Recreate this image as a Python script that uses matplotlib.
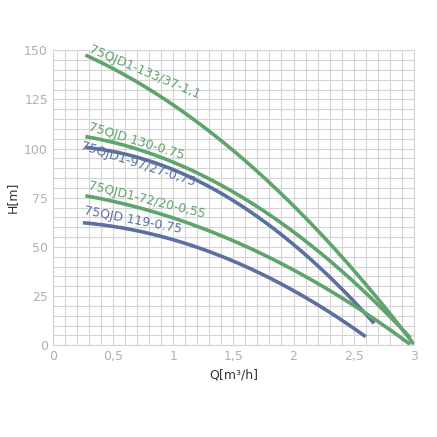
import numpy as np
import matplotlib.pyplot as plt

GREEN = "#5ea46c"
BLUE = "#5b6fa0"

q_133 = [0.27, 0.5, 1.0, 1.5, 2.0, 2.5, 3.0]
h_133 = [145, 140, 127, 103, 68, 30, 6]
q_130 = [0.27, 0.5, 1.0, 1.5, 2.0, 2.5, 2.97]
h_130 = [106, 103, 93, 79, 58, 30, 5]
q_97 = [0.27, 0.5, 1.0, 1.5, 2.0, 2.4, 2.67]
h_97 = [101, 98, 89, 74, 52, 27, 12]
q_72 = [0.27, 0.5, 1.0, 1.5, 2.0, 2.5, 2.97]
h_72 = [76, 73, 65, 53, 39, 19, 1]
q_119 = [0.25, 0.5, 1.0, 1.5, 2.0, 2.3, 2.6]
h_119 = [63, 60, 53, 42, 29, 18, 3]

curves = [
    (q_133, h_133, GREEN, "75QJD1-133/37-1,1", (0.28, 147.5), -23),
    (q_130, h_130, GREEN, "75QJD 130-0.75", (0.28, 108), -17),
    (q_97, h_97, BLUE, "75QJD1-97/27-0,75", (0.22, 98.5), -18),
    (q_72, h_72, GREEN, "75QJD1-72/20-0,55", (0.28, 78), -14),
    (q_119, h_119, BLUE, "75QJD 119-0.75", (0.25, 65), -11),
]

fig = plt.figure(figsize=(4.37, 4.37), dpi=100)
ax = fig.add_axes([0.121, 0.21, 0.826, 0.675])

for q, h, c, lab, pos, rot in curves:
    qq = np.linspace(q[0], q[-1], 200)
    hh = np.polyval(np.polyfit(q, h, 2), qq)
    ax.plot(qq, hh, color=c, lw=2.6, solid_capstyle="butt")
    ax.text(pos[0], pos[1], lab, color=c, fontsize=9, rotation=rot,
            rotation_mode="anchor", ha="left", va="bottom")

ax.set_xlim(0, 3)
ax.set_ylim(0, 150)
ax.set_xticks(np.arange(0, 3.01, 0.1), minor=True)
ax.set_yticks(np.arange(0, 151, 5), minor=True)
ax.set_xticks([0, 0.5, 1, 1.5, 2, 2.5, 3])
ax.set_xticklabels(["0", "0,5", "1", "1,5", "2", "2,5", "3"])
ax.set_yticks([0, 25, 50, 75, 100, 125, 150])
ax.grid(which="both", color="#d4d4d4", lw=0.8)
ax.tick_params(which="both", length=0, colors="#b0b0b0", labelsize=9)
for s in ax.spines.values():
    s.set_color("#d4d4d4")
ax.set_xlabel("Q[m³/h]", fontsize=9, color="#333333")
ax.set_ylabel("H[m]", fontsize=9, color="#333333")
fig.savefig("out.png", dpi=100)
